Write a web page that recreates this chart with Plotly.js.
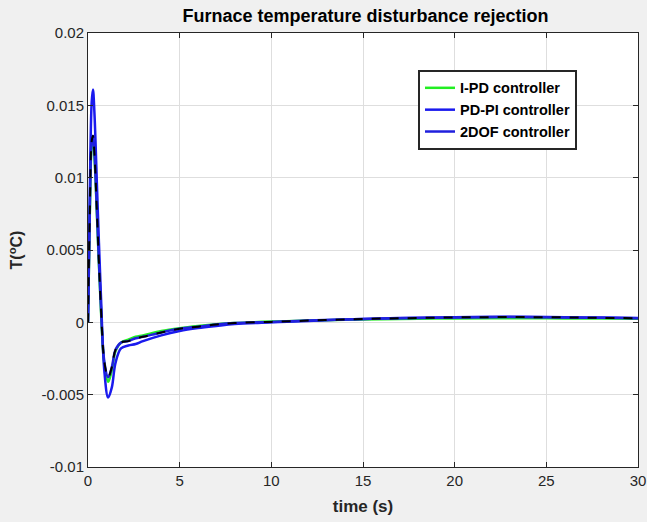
<!DOCTYPE html>
<html>
<head>
<meta charset="utf-8">
<script src="https://cdn.plot.ly/plotly-3.0.1.min.js"></script>
<style>html,body{margin:0;padding:0;background:#f0f0f0;}#chart{width:647px;height:522px;}</style>
</head>
<body>
<div id="chart"></div>
<script>
const time = [0, 0.1, 0.2, 0.27, 0.35, 0.5, 0.7, 0.9, 1.1, 1.3, 1.5, 1.8, 2.2, 2.6, 3, 4, 5, 6, 7, 8, 10, 12, 14, 16, 18, 20, 22, 24, 26, 28, 30];
const ipd = [0, 0.0075, 0.0122, 0.0127, 0.0115, 0.007, 0.0010, -0.0030, -0.0041, -0.0033, -0.0020, -0.0014, -0.0012, -0.0010, -0.0009, -0.0006, -0.0004, -0.00025, -0.00013, -0.00005, 0.00005, 0.00012, 0.00018, 0.00022, 0.00025, 0.00027, 0.00028, 0.00028, 0.00027, 0.00026, 0.00025];
const pdpi = [0, 0.009, 0.0152, 0.0161, 0.0145, 0.009, 0.002, -0.0035, -0.0052, -0.0045, -0.0028, -0.0018, -0.0016, -0.0015, -0.0013, -0.0009, -0.0006, -0.0004, -0.00025, -0.00012, 0.0, 0.0001, 0.0002, 0.00027, 0.00032, 0.00036, 0.00038, 0.00038, 0.00036, 0.00033, 0.0003];
const twodof = [0, 0.0078, 0.0125, 0.0129, 0.0117, 0.0072, 0.0012, -0.0028, -0.0038, -0.0031, -0.0019, -0.0014, -0.0013, -0.0011, -0.0010, -0.0007, -0.00045, -0.0003, -0.00015, -0.00005, 0.00003, 0.00012, 0.0002, 0.00026, 0.0003, 0.00034, 0.00036, 0.00036, 0.00034, 0.00031, 0.00028];
const seriesNames = ['I-PD controller', 'PD-PI controller', '2DOF controller'];
const xTicks = [0, 5, 10, 15, 20, 25, 30];
const yTicks = [0.02, 0.015, 0.01, 0.005, 0, -0.005, -0.01];
const yTickText = ['0.02', '0.015', '0.01', '0.005', '0', '-0.005', '-0.01'];

const traces = [
  {x: time, y: ipd, name: seriesNames[0], mode: 'lines', line: {color: '#22ee22', width: 2.5, shape: 'spline'}},
  {x: time, y: pdpi, name: seriesNames[1], mode: 'lines', line: {color: '#1a1aee', width: 2.5, shape: 'spline'}},
  {x: time, y: twodof, name: seriesNames[2], mode: 'lines', line: {color: '#2020dd', width: 2.5, shape: 'spline'}},
  {x: time, y: twodof, name: seriesNames[2], showlegend: false, mode: 'lines', line: {color: '#000000', width: 2, dash: 'dash', shape: 'spline'}}
];

const axisCommon = {
  showline: true, linecolor: '#262626', linewidth: 1, mirror: 'ticks',
  ticks: 'inside', ticklen: 5, tickcolor: '#262626',
  showgrid: true, gridcolor: '#dedede', gridwidth: 1, zeroline: false,
  tickfont: {family: 'Liberation Sans, Arial, sans-serif', size: 15, color: '#262626'}
};

const layout = {
  width: 647, height: 522,
  paper_bgcolor: '#f0f0f0', plot_bgcolor: '#ffffff',
  margin: {l: 88, r: 9, t: 33, b: 55},
  title: {text: '<b>Furnace temperature disturbance rejection</b>', x: 0.565, xanchor: 'center', y: 0.97, yanchor: 'middle',
    font: {family: 'Liberation Sans, Arial, sans-serif', size: 18, color: '#000'}},
  xaxis: Object.assign({}, axisCommon, {range: [0, 30], tickvals: xTicks, ticktext: xTicks.map(String),
    title: {text: '<b>time (s)</b>', standoff: 12, font: {family: 'Liberation Sans, Arial, sans-serif', size: 17, color: '#262626'}}}),
  yaxis: Object.assign({}, axisCommon, {range: [-0.01, 0.02], tickvals: yTicks, ticktext: yTickText,
    title: {text: '<b>T(<sup>o</sup>C)</b>', standoff: 14, font: {family: 'Liberation Sans, Arial, sans-serif', size: 16, color: '#262626'}}}),
  legend: {x: 0.6, y: 0.915, xanchor: 'left', yanchor: 'top', bgcolor: '#ffffff', bordercolor: '#262626', borderwidth: 2,
    font: {family: 'Liberation Sans, Arial, sans-serif', size: 14.5, color: '#000', weight: 'bold'}, tracegroupgap: 0},
  showlegend: true
};

Plotly.newPlot('chart', traces, layout, {displayModeBar: false, staticPlot: true});
</script>
</body>
</html>
